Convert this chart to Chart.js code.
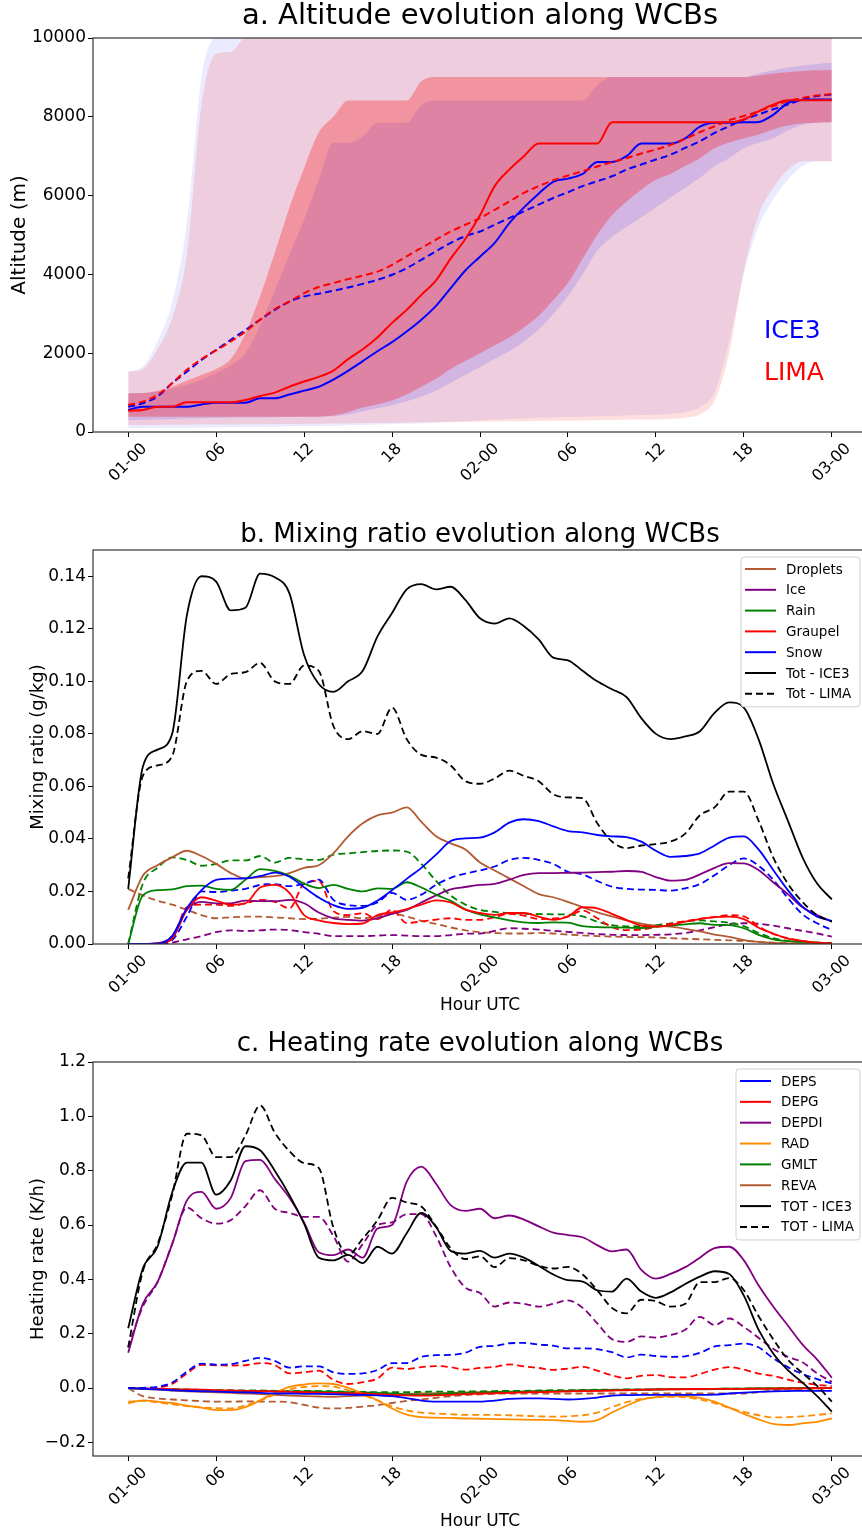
<!DOCTYPE html>
<html>
<head>
<meta charset="utf-8">
<script src="https://cdn.jsdelivr.net/npm/chart.js@4.4.0/dist/chart.umd.min.js"></script>
<style>
  html, body { margin: 0; padding: 0; background: #fff; overflow: hidden; width: 862px; height: 1532px; }
  canvas { position: absolute; left: 0; }
</style>
</head>
<body>
<canvas id="chartA" width="880" height="500" style="top:0px"></canvas>
<canvas id="chartB" width="880" height="530" style="top:500px"></canvas>
<canvas id="chartC" width="880" height="502" style="top:1030px"></canvas>
<script>
// heures depuis 01-00 UTC
const hours = [0,1,2,3,4,5,6,7,8,9,10,11,12,13,14,15,16,17,18,19,20,21,22,23,24,25,26,27,28,29,30,31,32,33,34,35,36,37,38,39,40,41,42,43,44,45,46,47,48];
const xTicks = [0, 6, 12, 18, 24, 30, 36, 42, 48];
const xTickLabels = ['01-00', '06', '12', '18', '02-00', '06', '12', '18', '03-00'];

// a. altitude (m)
const yTicksA = [0, 2000, 4000, 6000, 8000, 10000];
const ice3OuterMax = [1534,1660,2300,3300,5300,9000,10000,10000,10000,10000, 10000,10000,10000,10000,10000,10000,10000,10000,10000,10000, 10000,10000,10000,10000,10000,10000,10000,10000,10000,10000, 10000,10000,10000,10000,10000,10000,10000,10000,10000,10000, 10000,10000,10000,10000,10000,10000,10000,10000,10000];
const limaOuterMax = [1534,1600,2100,2900,4500,8300,9600,9650,10000,10000, 10000,10000,10000,10000,10000,10000,10000,10000,10000,10000, 10000,10000,10000,10000,10000,10000,10000,10000,10000,10000, 10000,10000,10000,10000,10000,10000,10000,10000,10000,10000, 10000,10000,10000,10000,10000,10000,10000,10000,10000];
const ice3OuterMin = [100,100,105,105,110,110,115,120,125,130, 135,140,150,155,160,170,180,190,200,210, 220,240,260,280,300,315,330,345,360,370, 380,390,400,410,420,430,440,460,500,620, 1000,2300,4000,5200,5900,6400,6750,6870,6870];
const limaOuterMin = [180,180,180,182,185,188,190,192,195,198, 200,203,206,210,214,218,222,226,230,235, 240,245,250,255,260,265,270,275,280,285, 290,295,300,305,310,315,320,330,360,450, 800,2000,4100,5500,6200,6650,6870,6870,6870];
const ice3InnerMax = [983,990,1030,1100,1200,1330,1500,1700,2000,2700, 3600,4500,5400,6400,7340,7340,7500,7847,7847,7847, 8300,8415,8415,8415,8415,8415,8415,8415,8415,8415, 8415,8415,8800,9008,9008,9008,9008,9008,9008,9008, 9008,9008,9008,9100,9180,9250,9300,9340,9370];
const limaInnerMax = [983,990,1050,1150,1300,1450,1600,1850,2500,3450, 4550,5700,6700,7600,8000,8415,8415,8415,8415,8415, 8900,9008,9008,9008,9008,9008,9008,9008,9008,9008, 9008,9008,9008,9008,9008,9008,9008,9008,9008,9008, 9008,9008,9008,9050,9100,9130,9160,9180,9190];
const ice3InnerMin = [300,310,320,330,340,350,355,360,365,370, 375,380,385,390,400,450,520,600,680,780, 900,1050,1250,1450,1650,1850,2050,2300,2600,3000, 3450,4000,4600,4950,5200,5450,5700,5950,6200,6450, 6750,6950,7200,7340,7450,7650,7800,7850,7860];
const limaInnerMin = [390,390,390,390,390,390,390,390,390,390, 390,390,390,390,420,500,620,700,800,950, 1150,1350,1600,1800,2000,2200,2400,2650,2950,3350, 3780,4400,5000,5500,5850,6150,6400,6550,6750,6950, 7200,7350,7450,7550,7680,7780,7830,7850,7860];
const ice3Median = [560,640,640,640,640,700,745,745,745,855, 855,950,1050,1150,1330,1550,1800,2050,2280,2550, 2850,3200,3650,4100,4450,4800,5300,5700,6050,6350, 6430,6550,6855,6855,7000,7320,7320,7320,7450,7750, 7850,7850,7860,7870,8050,8350,8430,8440,8440];
const limaMedian = [540,560,640,640,755,755,755,755,810,915, 1000,1150,1280,1400,1560,1850,2100,2400,2770,3100, 3480,3850,4400,4900,5500,6240,6660,7000,7320,7320, 7320,7320,7320,7860,7860,7860,7860,7860,7860,7860, 7860,7860,7930,8140,8310,8420,8420,8420,8420];
const ice3Mean = [640,730,900,1240,1530,1830,2085,2340,2590,2850, 3100,3310,3440,3510,3585,3670,3760,3860,3990,4160, 4370,4585,4800,4970,5090,5260,5430,5600,5770,5940, 6085,6240,6365,6490,6660,6790,6915,7040,7210,7380, 7590,7760,7930,8060,8190,8310,8440,8525,8570];
const limaMean = [690,770,940,1240,1580,1850,2070,2300,2550,2850, 3120,3310,3525,3680,3780,3880,3970,4070,4240,4460, 4670,4880,5090,5260,5430,5640,5850,6070,6240,6390, 6510,6620,6740,6850,6950,7070,7170,7290,7440,7610, 7760,7915,8020,8140,8270,8400,8480,8540,8580];

// b. rapport de mélange (g/kg) - trait plein ICE3, tirets LIMA
const yTicksB = [0, 0.02, 0.04, 0.06, 0.08, 0.10, 0.12, 0.14];
const mixLegend = ['Droplets', 'Ice', 'Rain', 'Graupel', 'Snow', 'Tot - ICE3', 'Tot - LIMA'];
const dropletsIce3 = [0.013,0.026,0.030,0.033,0.0355,0.0335,0.0305,0.027,0.025,0.0255, 0.0258,0.027,0.029,0.030,0.0345,0.041,0.046,0.049,0.050,0.052, 0.0465,0.041,0.0383,0.036,0.031,0.028,0.025,0.022,0.019,0.0178, 0.016,0.014,0.012,0.0105,0.009,0.0078,0.007,0.0066,0.0058,0.0048, 0.0036,0.0027,0.0015,0.0008,0.0004,0.0002,0.0001,0,0];
const dropletsLima = [0.021,0.0185,0.0165,0.015,0.013,0.011,0.0098,0.0102,0.0104,0.0104, 0.0101,0.0098,0.0095,0.0096,0.0100,0.0103,0.0098,0.0105,0.0115,0.0105, 0.0088,0.0077,0.0063,0.0052,0.0045,0.0042,0.004,0.004,0.0042,0.004, 0.0036,0.0033,0.003,0.0028,0.0027,0.0026,0.0025,0.0022,0.002,0.0018, 0.0016,0.0014,0.0012,0.0008,0.0005,0.0003,0.0002,0.0001,0];
const iceIce3 = [0,0,0.0003,0.003,0.013,0.016,0.0155,0.0155,0.0165,0.0163, 0.0163,0.0168,0.0155,0.012,0.0098,0.0092,0.0089,0.0098,0.0115,0.013, 0.0158,0.0185,0.0208,0.0217,0.0225,0.0229,0.0245,0.0263,0.027,0.027, 0.0271,0.0272,0.0274,0.0275,0.0278,0.0275,0.0255,0.0241,0.0244,0.0265, 0.029,0.0308,0.0307,0.0282,0.0235,0.019,0.014,0.011,0.0085];
const iceLima = [0,0,0,0.0005,0.0018,0.003,0.0045,0.0052,0.005,0.0052, 0.0055,0.0053,0.0045,0.0039,0.003,0.003,0.003,0.0032,0.0034,0.0032, 0.003,0.003,0.0034,0.0039,0.004,0.005,0.006,0.0058,0.0055,0.005, 0.0046,0.0042,0.0038,0.0035,0.0034,0.0034,0.0035,0.0037,0.0042,0.0052, 0.0064,0.0076,0.0079,0.0077,0.007,0.006,0.005,0.004,0.0028];
const rainIce3 = [0,0.0185,0.0205,0.0208,0.022,0.0222,0.021,0.0206,0.0245,0.0285, 0.0278,0.026,0.023,0.0213,0.0225,0.021,0.02,0.0212,0.021,0.0235, 0.0215,0.0188,0.0164,0.0132,0.0113,0.0101,0.009,0.0082,0.008,0.0082, 0.0081,0.0068,0.0064,0.0063,0.0062,0.0061,0.0066,0.007,0.0075,0.0079, 0.0073,0.0072,0.006,0.0035,0.0018,0.0011,0.0008,0.0005,0.0003];
const rainLima = [0,0.023,0.029,0.033,0.032,0.0298,0.0305,0.0318,0.0318,0.0335, 0.031,0.0328,0.0322,0.032,0.034,0.0345,0.035,0.0354,0.0356,0.0352, 0.0305,0.024,0.0185,0.015,0.013,0.0122,0.0118,0.0115,0.0114,0.0113, 0.0112,0.0105,0.0085,0.0072,0.0067,0.0068,0.0072,0.0078,0.0086,0.009, 0.0086,0.0081,0.0068,0.0042,0.0022,0.0012,0.0008,0.0005,0.0003];
const graupelIce3 = [0,0,0.0002,0.002,0.013,0.0178,0.0165,0.015,0.0155,0.0215, 0.0225,0.0195,0.011,0.009,0.008,0.0076,0.0078,0.011,0.012,0.0133, 0.015,0.0166,0.0158,0.0131,0.0118,0.0111,0.0118,0.0118,0.0104,0.0092, 0.0105,0.014,0.0136,0.0115,0.0091,0.007,0.0066,0.0072,0.0085,0.0095, 0.0102,0.0104,0.0095,0.0062,0.004,0.002,0.0012,0.0005,0.0002];
const graupelLima = [0,0,0,0.002,0.014,0.015,0.015,0.0145,0.0155,0.0168, 0.016,0.0136,0.023,0.024,0.0125,0.011,0.0117,0.0095,0.013,0.008, 0.0086,0.0093,0.0098,0.0092,0.0092,0.0102,0.0115,0.0108,0.0095,0.0097, 0.0104,0.0127,0.0098,0.0064,0.0053,0.0055,0.0065,0.0078,0.0087,0.0096, 0.0102,0.011,0.0105,0.0068,0.0038,0.0022,0.0012,0.0005,0.0002];
const snowIce3 = [0,0,0.0001,0.003,0.0136,0.0205,0.0244,0.0249,0.025,0.0258, 0.0272,0.0256,0.0216,0.0177,0.0148,0.0134,0.0138,0.0165,0.0205,0.0248, 0.029,0.034,0.0392,0.0402,0.0405,0.0425,0.0462,0.0475,0.0468,0.0448, 0.043,0.0425,0.0415,0.041,0.0407,0.039,0.0355,0.0332,0.0335,0.0345, 0.0375,0.0405,0.041,0.036,0.0282,0.0205,0.0142,0.0104,0.0088];
const snowLima = [0,0,0,0.0015,0.0104,0.02,0.0198,0.0203,0.021,0.0225, 0.0228,0.022,0.023,0.0245,0.0168,0.0148,0.0145,0.0158,0.0195,0.0168, 0.0188,0.0225,0.0252,0.0268,0.028,0.0295,0.032,0.0328,0.032,0.0305, 0.0275,0.0265,0.024,0.0218,0.021,0.0207,0.0206,0.0203,0.0212,0.0228, 0.0262,0.03,0.0326,0.0298,0.0245,0.0175,0.0113,0.0079,0.0053];
const totIce3Mix = [0.021,0.0675,0.074,0.080,0.125,0.140,0.138,0.127,0.128,0.141, 0.1396,0.1335,0.110,0.099,0.096,0.100,0.104,0.117,0.126,0.135, 0.137,0.135,0.136,0.131,0.124,0.122,0.124,0.121,0.116,0.109, 0.108,0.104,0.100,0.097,0.094,0.086,0.080,0.078,0.079,0.081, 0.088,0.092,0.090,0.078,0.061,0.047,0.033,0.023,0.017];
const totLimaMix = [0.025,0.064,0.068,0.0715,0.100,0.104,0.099,0.1028,0.1035,0.107, 0.100,0.099,0.106,0.104,0.083,0.078,0.081,0.080,0.090,0.078, 0.072,0.071,0.068,0.062,0.061,0.063,0.066,0.064,0.062,0.057, 0.0558,0.0555,0.046,0.039,0.0365,0.0375,0.038,0.039,0.042,0.049, 0.052,0.058,0.058,0.047,0.033,0.023,0.016,0.011,0.0085];

// c. taux de chauffage (K/h)
const yTicksC = [-0.2, 0, 0.2, 0.4, 0.6, 0.8, 1.0, 1.2];
const heatLegend = ['DEPS', 'DEPG', 'DEPDI', 'RAD', 'GMLT', 'REVA', 'TOT - ICE3', 'TOT - LIMA'];
const depsIce3 = [0,-0.003,-0.005,-0.008,-0.01,-0.012,-0.013,-0.015,-0.016,-0.018, -0.02,-0.02,-0.021,-0.021,-0.022,-0.024,-0.025,-0.027,-0.03,-0.037, -0.046,-0.05,-0.05,-0.05,-0.05,-0.046,-0.04,-0.038,-0.038,-0.04, -0.042,-0.04,-0.035,-0.028,-0.026,-0.025,-0.025,-0.025,-0.025,-0.025, -0.024,-0.02,-0.017,-0.014,-0.012,-0.011,-0.01,-0.01,-0.01];
const depsLima = [0,0.001,0.005,0.02,0.06,0.09,0.086,0.088,0.1,0.111, 0.1,0.075,0.08,0.08,0.058,0.052,0.054,0.066,0.092,0.092, 0.115,0.121,0.122,0.13,0.152,0.155,0.165,0.166,0.16,0.156, 0.146,0.146,0.143,0.132,0.113,0.123,0.118,0.115,0.117,0.13, 0.153,0.158,0.164,0.15,0.11,0.077,0.052,0.033,0.017];
const depgIce3 = [0,-0.001,-0.002,-0.004,-0.005,-0.006,-0.008,-0.009,-0.01,-0.011, -0.012,-0.014,-0.015,-0.017,-0.018,-0.019,-0.02,-0.022,-0.025,-0.027, -0.028,-0.027,-0.025,-0.022,-0.02,-0.019,-0.018,-0.016,-0.015,-0.014, -0.012,-0.011,-0.01,-0.009,-0.008,-0.006,-0.005,-0.004,-0.004,-0.003, -0.003,-0.003,-0.003,-0.002,-0.002,-0.001,-0.001,0,0];
const depgLima = [0,0,0.002,0.015,0.054,0.085,0.084,0.083,0.084,0.092, 0.085,0.054,0.058,0.064,0.03,0.015,0.022,0.035,0.075,0.07, 0.077,0.081,0.077,0.068,0.074,0.078,0.087,0.08,0.074,0.067, 0.072,0.078,0.064,0.047,0.036,0.045,0.048,0.04,0.039,0.052, 0.068,0.077,0.068,0.053,0.045,0.031,0.02,0.012,0.007];
const depdiIce3 = [0.13,0.31,0.39,0.53,0.69,0.722,0.66,0.70,0.835,0.84, 0.77,0.70,0.61,0.50,0.489,0.51,0.48,0.587,0.60,0.76, 0.815,0.752,0.673,0.652,0.66,0.625,0.635,0.62,0.595,0.572, 0.563,0.555,0.526,0.503,0.51,0.435,0.403,0.42,0.445,0.48, 0.515,0.52,0.47,0.378,0.30,0.23,0.16,0.105,0.038];
const depdiLima = [0.15,0.30,0.39,0.53,0.665,0.625,0.605,0.618,0.67,0.728, 0.66,0.645,0.63,0.63,0.56,0.465,0.53,0.60,0.61,0.64, 0.64,0.56,0.445,0.37,0.35,0.30,0.315,0.31,0.30,0.31, 0.323,0.295,0.238,0.18,0.17,0.19,0.186,0.195,0.215,0.262, 0.232,0.256,0.225,0.185,0.145,0.115,0.095,0.054,0.023];
const radIce3 = [-0.056,-0.045,-0.05,-0.055,-0.065,-0.072,-0.081,-0.081,-0.07,-0.045, -0.018,0.004,0.013,0.017,0.015,0.001,-0.02,-0.045,-0.075,-0.098, -0.107,-0.109,-0.11,-0.112,-0.113,-0.114,-0.115,-0.116,-0.117,-0.118, -0.121,-0.124,-0.118,-0.09,-0.065,-0.043,-0.033,-0.029,-0.03,-0.036, -0.05,-0.072,-0.095,-0.115,-0.132,-0.136,-0.13,-0.124,-0.112];
const radLima = [-0.05,-0.047,-0.053,-0.06,-0.066,-0.071,-0.074,-0.075,-0.064,-0.046, -0.024,-0.005,0.004,0.007,0.005,-0.008,-0.026,-0.045,-0.067,-0.082, -0.09,-0.094,-0.096,-0.099,-0.099,-0.099,-0.1,-0.102,-0.104,-0.105, -0.104,-0.1,-0.09,-0.07,-0.052,-0.04,-0.034,-0.032,-0.034,-0.042, -0.055,-0.073,-0.088,-0.1,-0.108,-0.107,-0.104,-0.099,-0.093];
const gmltIce3 = [0,-0.002,-0.004,-0.006,-0.008,-0.009,-0.01,-0.01,-0.011,-0.011, -0.012,-0.012,-0.012,-0.013,-0.014,-0.015,-0.016,-0.018,-0.02,-0.023, -0.025,-0.023,-0.02,-0.019,-0.018,-0.016,-0.015,-0.014,-0.012,-0.011, -0.01,-0.009,-0.008,-0.007,-0.006,-0.006,-0.005,-0.004,-0.004,-0.003, -0.003,-0.002,-0.002,-0.001,-0.001,-0.001,0,0,0];
const gmltLima = [0,-0.002,-0.003,-0.004,-0.005,-0.007,-0.008,-0.008,-0.009,-0.009, -0.01,-0.01,-0.01,-0.011,-0.012,-0.013,-0.014,-0.015,-0.015,-0.015, -0.014,-0.013,-0.013,-0.012,-0.012,-0.011,-0.01,-0.01,-0.009,-0.008, -0.008,-0.007,-0.006,-0.006,-0.005,-0.005,-0.005,-0.004,-0.004,-0.003, -0.003,-0.002,-0.002,-0.001,-0.001,0,0,0,0];
const revaIce3 = [0,-0.003,-0.006,-0.009,-0.012,-0.014,-0.016,-0.018,-0.02,-0.022, -0.025,-0.028,-0.03,-0.031,-0.032,-0.03,-0.028,-0.026,-0.024,-0.022, -0.02,-0.019,-0.018,-0.016,-0.015,-0.014,-0.013,-0.012,-0.011,-0.011, -0.01,-0.009,-0.009,-0.008,-0.007,-0.007,-0.006,-0.006,-0.005,-0.005, -0.004,-0.004,-0.003,-0.003,-0.002,-0.002,-0.001,-0.001,0];
const revaLima = [0,-0.03,-0.038,-0.042,-0.045,-0.048,-0.05,-0.05,-0.049,-0.05, -0.05,-0.052,-0.062,-0.072,-0.075,-0.073,-0.068,-0.063,-0.055,-0.047, -0.042,-0.036,-0.03,-0.026,-0.023,-0.021,-0.02,-0.02,-0.02,-0.02, -0.02,-0.02,-0.02,-0.02,-0.02,-0.02,-0.02,-0.02,-0.02,-0.02, -0.02,-0.02,-0.02,-0.015,-0.008,-0.005,-0.003,-0.002,-0.001];
const totIce3Heat = [0.22,0.44,0.52,0.72,0.83,0.83,0.712,0.765,0.89,0.875, 0.80,0.71,0.605,0.48,0.47,0.49,0.46,0.52,0.495,0.57, 0.645,0.593,0.505,0.495,0.505,0.48,0.495,0.48,0.45,0.418, 0.397,0.392,0.36,0.355,0.403,0.355,0.332,0.352,0.383,0.41, 0.43,0.42,0.34,0.215,0.127,0.066,0.02,-0.03,-0.087];
const totLimaHeat = [0.15,0.43,0.53,0.71,0.936,0.93,0.85,0.85,0.93,1.04, 0.94,0.872,0.828,0.81,0.59,0.49,0.55,0.617,0.70,0.683, 0.668,0.595,0.515,0.475,0.485,0.445,0.478,0.47,0.45,0.44, 0.446,0.418,0.36,0.295,0.275,0.325,0.32,0.30,0.31,0.39, 0.39,0.405,0.36,0.265,0.18,0.105,0.055,0.008,-0.05];

const FONT = '"DejaVu Sans", sans-serif';
const C = { brown: '#b35a32', purple: '#800080', green: '#008000', red: '#ff0000', blue: '#0000ff', orange: '#ff8c00', black: '#000000' };

function pts(values) { return hours.map((h, i) => ({ x: h, y: values[i] })); }

function line(values, color, dashed, label, width) {
  return {
    label: label, data: pts(values),
    borderColor: color, borderWidth: width || 1.8,
    borderDash: dashed ? [7, 4] : [],
    pointRadius: 0, fill: false, cubicInterpolationMode: 'monotone'
  };
}
function bandTop(values, color) {
  return { label: '', data: pts(values), borderColor: 'rgba(0,0,0,0)', borderWidth: 0,
    backgroundColor: color, fill: '+1', pointRadius: 0, cubicInterpolationMode: 'monotone' };
}
function bandBottom(values) {
  return { label: '', data: pts(values), borderColor: 'rgba(0,0,0,0)', borderWidth: 0,
    fill: false, pointRadius: 0, cubicInterpolationMode: 'monotone' };
}

function xAxis(height) {
  return {
    type: 'linear', min: -2.4, max: 50.4,
    afterBuildTicks: s => { s.ticks = xTicks.map(v => ({ value: v })); },
    afterFit: s => { s.height = height; },
    ticks: { display: false },
    grid: { drawOnChartArea: false, drawTicks: true, tickLength: 5, color: '#000', lineWidth: 1 },
    border: { display: false }
  };
}
function yAxis(min, max, tickVals, fmt) {
  return {
    type: 'linear', min: min, max: max,
    afterBuildTicks: s => { s.ticks = tickVals.map(v => ({ value: v })); },
    afterFit: s => { s.width = 93; },
    ticks: { callback: fmt, color: '#000', font: { family: FONT, size: 17 }, padding: 2 },
    grid: { drawOnChartArea: false, drawTicks: true, tickLength: 5, color: '#000', lineWidth: 1 },
    border: { display: false }
  };
}

// cadre, titres, étiquettes x inclinées, légende
const decor = {
  id: 'decor',
  afterDraw(chart, args, o) {
    const ctx = chart.ctx, a = chart.chartArea;
    ctx.save();
    ctx.strokeStyle = '#333';
    ctx.lineWidth = 1.2;
    ctx.strokeRect(a.left, a.top, a.right - a.left, a.bottom - a.top);

    ctx.fillStyle = '#000';
    ctx.textAlign = 'center';
    ctx.textBaseline = 'middle';
    ctx.font = o.titleSize + 'px ' + FONT;
    ctx.fillText(o.title, (a.left + a.right) / 2, o.titleY);

    ctx.save();
    ctx.translate(o.yTitleX, (a.top + a.bottom) / 2);
    ctx.rotate(-Math.PI / 2);
    ctx.font = o.yTitleSize + 'px ' + FONT;
    ctx.fillText(o.yTitle, 0, 0);
    ctx.restore();

    const xs = chart.scales.x;
    ctx.font = '16px ' + FONT;
    xs.ticks.forEach((t, i) => {
      const lab = xTickLabels[i];
      const px = xs.getPixelForValue(t.value);
      const w = ctx.measureText(lab).width;
      const half = (w + 12) * Math.SQRT1_2 / 2;
      ctx.save();
      ctx.translate(px, a.bottom + 10 + half);
      ctx.rotate(-Math.PI / 4);
      ctx.fillText(lab, 0, 0);
      ctx.restore();
    });

    if (o.xTitle) {
      ctx.font = '17px ' + FONT;
      ctx.fillText(o.xTitle, (a.left + a.right) / 2, o.xTitleY);
    }

    if (o.legend) {
      const L = o.legend;
      const items = L.names.map(n => chart.data.datasets.find(d => d.label === n));
      const right = a.right - 7, top = a.top + 7, left = right - L.width;
      const h = 12 + (items.length - 1) * L.row + 13;
      ctx.beginPath();
      ctx.roundRect(left, top, L.width, h, 3);
      ctx.fillStyle = 'rgba(255,255,255,0.85)';
      ctx.fill();
      ctx.strokeStyle = '#d0d0d0';
      ctx.lineWidth = 1;
      ctx.stroke();
      ctx.font = '13.5px ' + FONT;
      ctx.textAlign = 'left';
      items.forEach((d, i) => {
        const y = top + 12 + i * L.row;
        ctx.beginPath();
        ctx.setLineDash(d.borderDash);
        ctx.strokeStyle = d.borderColor;
        ctx.lineWidth = 2;
        ctx.moveTo(left + 4, y);
        ctx.lineTo(left + 35, y);
        ctx.stroke();
        ctx.setLineDash([]);
        ctx.fillStyle = '#000';
        ctx.fillText(d.label, left + 45, y + 1);
      });
    }

    (o.notes || []).forEach(n => {
      ctx.font = n.size + 'px ' + FONT;
      ctx.textAlign = 'left';
      ctx.fillStyle = n.color;
      ctx.fillText(n.text, n.x, n.y);
    });
    ctx.restore();
  }
};

const common = (pad, decorOpts, scales) => ({
  responsive: false,
  animation: false,
  layout: { padding: pad },
  scales: scales,
  plugins: { legend: { display: false }, tooltip: { enabled: false }, decor: decorOpts }
});

// a. altitude
new Chart(document.getElementById('chartA'), {
  type: 'line',
  data: { datasets: [
    line(limaMean, C.red, true, 'LIMA mean', 2),
    line(limaMedian, C.red, false, 'LIMA median', 2),
    line(ice3Mean, C.blue, true, 'ICE3 mean', 2),
    line(ice3Median, C.blue, false, 'ICE3 median', 2),
    bandTop(limaInnerMax, 'rgba(255,0,0,0.28)'), bandBottom(limaInnerMin),
    bandTop(ice3InnerMax, 'rgba(0,0,255,0.12)'), bandBottom(ice3InnerMin),
    bandTop(limaOuterMax, 'rgba(255,0,0,0.13)'), bandBottom(limaOuterMin),
    bandTop(ice3OuterMax, 'rgba(0,0,255,0.08)'), bandBottom(ice3OuterMin)
  ] },
  options: common({ left: 0, top: 38, right: 13, bottom: 0 }, {
    title: 'a. Altitude evolution along WCBs', titleY: 16, titleSize: 29,
    yTitle: 'Altitude (m)', yTitleX: 20, yTitleSize: 20,
    notes: [
      { text: 'ICE3', x: 764, y: 331, size: 25, color: C.blue },
      { text: 'LIMA', x: 764, y: 373, size: 25, color: C.red }
    ]
  }, {
    x: xAxis(68),
    y: yAxis(0, 10000, yTicksA, v => String(v))
  }),
  plugins: [decor]
});

// b. rapport de mélange
new Chart(document.getElementById('chartB'), {
  type: 'line',
  data: { datasets: [
    line(totIce3Mix, C.black, false, 'Tot - ICE3'),
    line(totLimaMix, C.black, true, 'Tot - LIMA'),
    line(snowIce3, C.blue, false, 'Snow'),
    line(graupelIce3, C.red, false, 'Graupel'),
    line(rainIce3, C.green, false, 'Rain'),
    line(iceIce3, C.purple, false, 'Ice'),
    line(dropletsIce3, C.brown, false, 'Droplets'),
    line(snowLima, C.blue, true, 'Snow LIMA'),
    line(graupelLima, C.red, true, 'Graupel LIMA'),
    line(rainLima, C.green, true, 'Rain LIMA'),
    line(iceLima, C.purple, true, 'Ice LIMA'),
    line(dropletsLima, C.brown, true, 'Droplets LIMA')
  ] },
  options: common({ left: 0, top: 50, right: 13, bottom: 0 }, {
    title: 'b. Mixing ratio evolution along WCBs', titleY: 35, titleSize: 26,
    yTitle: 'Mixing ratio (g/kg)', yTitleX: 38, yTitleSize: 18,
    xTitle: 'Hour UTC', xTitleY: 506,
    legend: { names: mixLegend, width: 119, row: 20.8 }
  }, {
    x: xAxis(86),
    y: yAxis(0, 0.15, yTicksB, v => v.toFixed(2))
  }),
  plugins: [decor]
});

// c. taux de chauffage
new Chart(document.getElementById('chartC'), {
  type: 'line',
  data: { datasets: [
    line(totIce3Heat, C.black, false, 'TOT - ICE3'),
    line(totLimaHeat, C.black, true, 'TOT - LIMA'),
    line(depdiIce3, C.purple, false, 'DEPDI'),
    line(depdiLima, C.purple, true, 'DEPDI LIMA'),
    line(depsIce3, C.blue, false, 'DEPS'),
    line(depsLima, C.blue, true, 'DEPS LIMA'),
    line(depgIce3, C.red, false, 'DEPG'),
    line(depgLima, C.red, true, 'DEPG LIMA'),
    line(radIce3, C.orange, false, 'RAD'),
    line(radLima, C.orange, true, 'RAD LIMA'),
    line(gmltIce3, C.green, false, 'GMLT'),
    line(gmltLima, C.green, true, 'GMLT LIMA'),
    line(revaIce3, C.brown, false, 'REVA'),
    line(revaLima, C.brown, true, 'REVA LIMA')
  ] },
  options: common({ left: 0, top: 32, right: 13, bottom: 0 }, {
    title: 'c. Heating rate evolution along WCBs', titleY: 14, titleSize: 26,
    yTitle: 'Heating rate (K/h)', yTitleX: 38, yTitleSize: 18,
    xTitle: 'Hour UTC', xTitleY: 492,
    legend: { names: heatLegend, width: 124, row: 20.85 }
  }, {
    x: xAxis(76),
    y: yAxis(-0.25, 1.2, yTicksC, v => (v < 0 ? '\u2212' : '') + Math.abs(v).toFixed(1))
  }),
  plugins: [decor]
});
</script>
</body>
</html>
